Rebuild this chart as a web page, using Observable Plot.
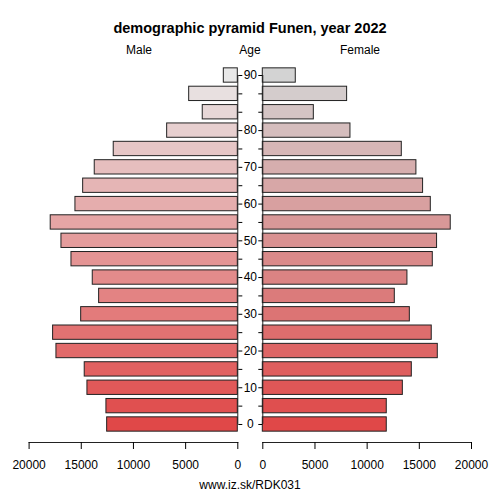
<!DOCTYPE html>
<html>
<head>
<meta charset="utf-8">
<script src="https://cdn.jsdelivr.net/npm/d3@7"></script>
<script src="https://cdn.jsdelivr.net/npm/@observablehq/plot@0.6"></script>
<style>
  html, body { margin: 0; padding: 0; background: white; }
  #wrap { position: relative; width: 500px; height: 500px; font-family: "Liberation Sans", Arial, sans-serif; color: #000; }
  .lbl { position: absolute; transform: translate(-50%, -50%); white-space: nowrap; font-size: 12px; }
  #title { font-weight: bold; font-size: 14.5px; }
  .panel { position: absolute; top: 0; }
</style>
</head>
<body>
<div id="wrap">
  <div id="title" class="lbl" style="left:250px; top:28px;">demographic pyramid Funen, year 2022</div>
  <div class="lbl" style="left:139px; top:50px;">Male</div>
  <div class="lbl" style="left:250px; top:50px;">Age</div>
  <div class="lbl" style="left:360px; top:50px;">Female</div>
  <div class="lbl" style="left:250px; top:485px;">www.iz.sk/RDK031</div>
  <div id="left" class="panel" style="left:0px;"></div>
  <div id="right" class="panel" style="left:250px;"></div>
</div>
<script>
const ages = ["0","5","10","15","20","25","30","35","40","45","50","55","60","65","70","75","80","85","90","95"];
const ageLabels = ["0","","10","","20","","30","","40","","50","","60","","70","","80","","","90"];
const male = [12520, 12590, 14410, 14670, 17380, 17700, 15010, 13290, 13900, 15940, 16900, 17930, 15560, 14820, 13710, 11890, 6770, 3360, 4660, 1340];
const female = [11880, 11880, 13420, 14280, 16770, 16190, 14090, 12650, 13860, 16290, 16700, 18010, 16100, 15360, 14720, 13320, 8400, 4890, 8080, 3160];
const xTicks = [0, 5000, 10000, 15000, 20000];

const rows = ages.map((a, i) => ({age: a, label: ageLabels[i], male: male[i], female: female[i], idx: i}));

const font = "'Liberation Sans', Arial, sans-serif";
const yScale = {type: "band", domain: ages.slice().reverse(), range: [63.8, 435.2], padding: 0.22, round: false};
const style = {overflow: "visible", background: "none", fontSize: "12px", fontFamily: font, color: "#000"};

const left = Plot.plot({
  width: 250, height: 500,
  marginLeft: 28.6, marginRight: 12.7, marginTop: 60, marginBottom: 58,
  style,
  x: {domain: [0, 20000], reverse: true},
  y: yScale,
  color: {type: "linear", domain: [0, ages.length - 1], range: ["#e04848", "#e8e8e8"], interpolate: "rgb"},
  marks: [
    Plot.barX(rows, {x: "male", y: "age", fill: "idx", stroke: "#222", strokeWidth: 1}),
    Plot.ruleX([0], {y1: () => ages[ages.length - 1], y2: () => ages[0], insetTop: 7.2, insetBottom: 7.2, stroke: "#222"}),
    Plot.axisY({anchor: "right", tickSize: 4, tickFormat: () => "", label: null}),
    Plot.text(rows, {x: 0, y: "age", text: "label", dx: 12.5, textAnchor: "middle", fontSize: 12}),
    Plot.frame({anchor: "bottom", stroke: "#222"}),
    Plot.axisX({anchor: "bottom", ticks: xTicks, tickFormat: "d", tickSize: 7, tickPadding: 11, label: null, fontSize: 12})
  ]
});

const right = Plot.plot({
  width: 250, height: 500,
  marginLeft: 12.3, marginRight: 29, marginTop: 60, marginBottom: 58,
  style,
  x: {domain: [0, 20000]},
  y: yScale,
  color: {type: "linear", domain: [0, ages.length - 1], range: ["#e04848", "#d3d3d3"], interpolate: "rgb"},
  marks: [
    Plot.barX(rows, {x: "female", y: "age", fill: "idx", stroke: "#222", strokeWidth: 1}),
    Plot.ruleX([0], {y1: () => ages[ages.length - 1], y2: () => ages[0], insetTop: 7.2, insetBottom: 7.2, stroke: "#222"}),
    Plot.axisY({anchor: "left", tickSize: 4, tickFormat: () => "", label: null}),
    Plot.frame({anchor: "bottom", stroke: "#222"}),
    Plot.axisX({anchor: "bottom", ticks: xTicks, tickFormat: "d", tickSize: 7, tickPadding: 11, label: null, fontSize: 12})
  ]
});

document.getElementById("left").appendChild(left);
document.getElementById("right").appendChild(right);
</script>
</body>
</html>
